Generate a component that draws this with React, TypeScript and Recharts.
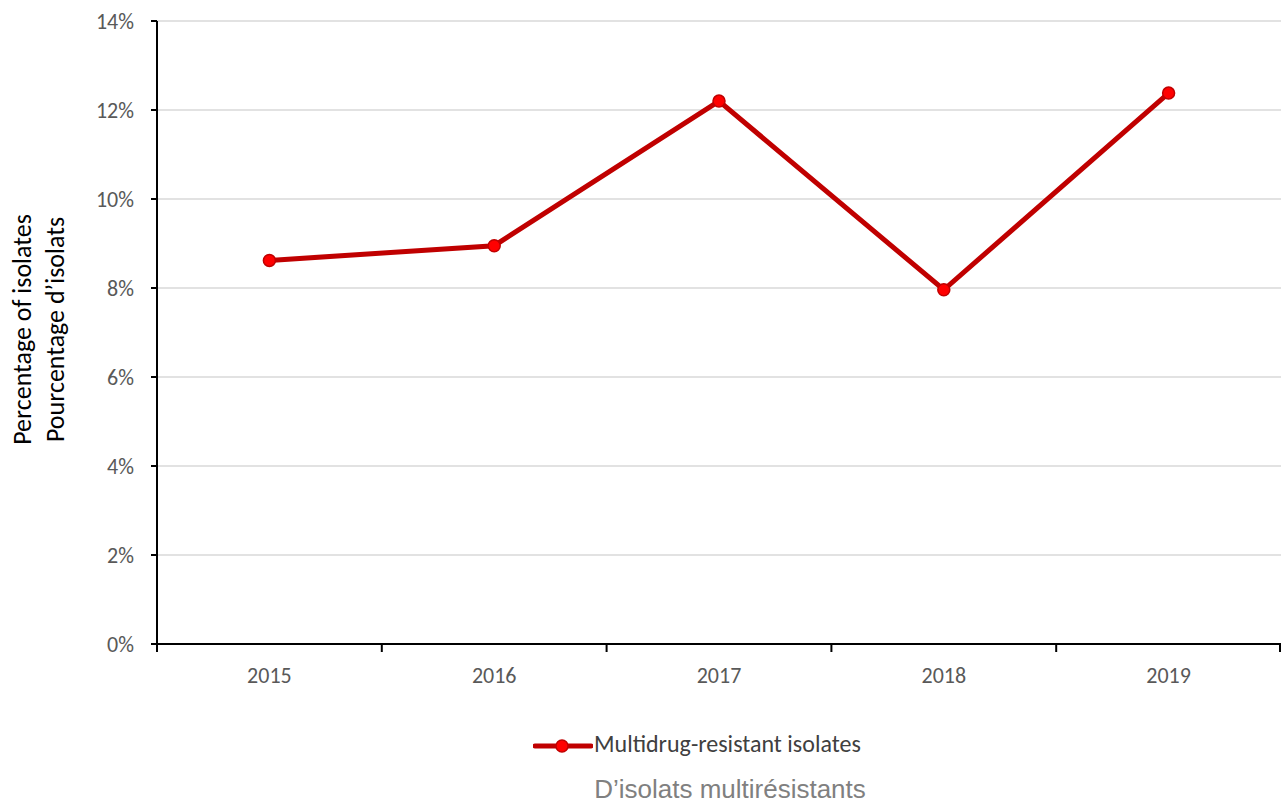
import React from "react";
import {
  LineChart,
  Line,
  XAxis,
  YAxis,
  CartesianGrid,
  Legend,
  Label,
} from "recharts";

const years = ["2015", "2016", "2017", "2018", "2019"];
const mdrPercent = [8.62, 8.95, 12.2, 7.96, 12.38];
const yTicks = [0, 2, 4, 6, 8, 10, 12, 14];

const SERIES_NAME = "Multidrug-resistant isolates";
const SERIES_SUBTITLE = "D\u2019isolats multirésistants";

const W = 1281;
const H = 802;
const LEFT = 157;
const STEP = (W - LEFT) / years.length;

const data = years.map((year, i) => ({ year, mdr: mdrPercent[i] }));

const font = "Carlito, 'Open Sans', 'Noto Sans', sans-serif";

// year label at category centre, tick marks on category boundaries
function YearTick(props: any) {
  const { x, y, payload, index } = props;
  const isLast = index === years.length - 1;
  return (
    <g>
      <line x1={x - STEP / 2} y1={y - 8} x2={x - STEP / 2} y2={y} stroke="#000" strokeWidth={2} />
      {isLast && (
        <line x1={x + STEP / 2 - 1} y1={y - 8} x2={x + STEP / 2 - 1} y2={y} stroke="#000" strokeWidth={2} />
      )}
      <text x={x} y={y + 31} textAnchor="middle" fill="#595959" fontSize={22} fontFamily={font}>
        {payload.value}
      </text>
    </g>
  );
}

function LegendBox() {
  return (
    <div style={{ position: "relative", width: W, height: 120, fontFamily: font }}>
      <svg style={{ position: "absolute", left: 533, top: 54 }} width={60} height={20}>
        <line x1={2} y1={10} x2={58} y2={10} stroke="#C00000" strokeWidth={5} strokeLinecap="round" />
        <circle cx={29} cy={10} r={6} fill="#FF0000" stroke="#C00000" strokeWidth={1.5} />
      </svg>
      <div style={{ position: "absolute", left: 594, top: 48, fontSize: 24, lineHeight: "28px", color: "#404040", whiteSpace: "nowrap" }}>
        {SERIES_NAME}
      </div>
      <div
        style={{
          position: "absolute",
          left: 0,
          width: 1460,
          top: 95,
          textAlign: "center",
          fontSize: 26,
          lineHeight: "25px",
          color: "#808080",
          fontFamily: "'Liberation Sans', Arial, sans-serif",
          whiteSpace: "nowrap",
        }}
      >
        {SERIES_SUBTITLE}
      </div>
    </div>
  );
}

export default function App() {
  return (
    <div style={{ position: "absolute", left: 0, top: 0, width: W, height: H, background: "#fff" }}>
      <LineChart width={W} height={H} data={data} margin={{ top: 21, right: 0, bottom: 0, left: 0 }}>
        <CartesianGrid vertical={false} stroke="#D9D9D9" strokeWidth={1.5} />
        <XAxis
          dataKey="year"
          height={38}
          padding={{ left: STEP / 2, right: STEP / 2 }}
          axisLine={{ stroke: "#000", strokeWidth: 2 }}
          tickLine={false}
          tick={<YearTick />}
          interval={0}
        />
        <YAxis
          width={LEFT}
          domain={[0, 14]}
          ticks={yTicks}
          interval={0}
          tickFormatter={(v: number) => `${v}%`}
          axisLine={{ stroke: "#000", strokeWidth: 2 }}
          tickLine={{ stroke: "#000", strokeWidth: 2 }}
          tickSize={6}
          tickMargin={17}
          tick={{ fill: "#595959", fontSize: 22, fontFamily: font }}
        >
          <Label
            content={({ viewBox }: any) => {
              const cy = viewBox.y + viewBox.height / 2 - 3;
              return (
                <g fontFamily={font} fontSize={26} fill="#000">
                  <text transform={`translate(31, ${cy}) rotate(-90)`} textAnchor="middle">
                    Percentage of isolates
                  </text>
                  <text transform={`translate(64, ${cy}) rotate(-90)`} textAnchor="middle">
                    Pourcentage d’isolats
                  </text>
                </g>
              );
            }}
          />
        </YAxis>
        <Legend verticalAlign="bottom" height={120} content={<LegendBox />} wrapperStyle={{ left: 0, bottom: 0, height: 120 }} />
        <Line
          type="linear"
          dataKey="mdr"
          name={SERIES_NAME}
          stroke="#C00000"
          strokeWidth={5}
          dot={{ r: 6, fill: "#FF0000", stroke: "#C00000", strokeWidth: 1.5 }}
          activeDot={false}
          isAnimationActive={false}
        />
      </LineChart>
    </div>
  );
}
